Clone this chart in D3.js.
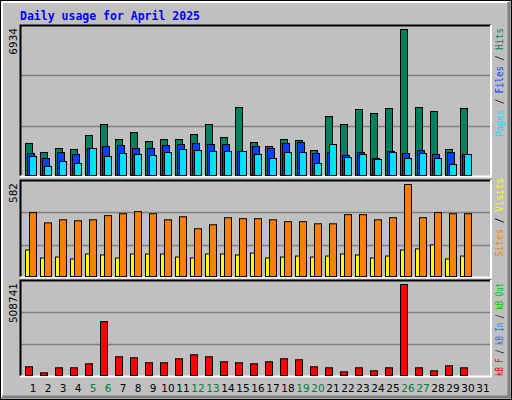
<!DOCTYPE html><html><head><meta charset="utf-8">
<script src="https://cdn.jsdelivr.net/npm/d3@7/dist/d3.min.js"></script>
<style>body{margin:0;background:#fff}</style></head><body><svg id="c" width="512" height="400"></svg>
<script>
const days = d3.range(1,32);
const weekend = [5,6,12,13,19,20,26,27];
const hits  = [1557,1132,1321,1274,1934,2453,1745,2075,1651,1745,1745,1981,2453,1840,3255,1604,1415,1745,1698,1226,2830,2453,3160,2972,3208,6934,3255,3066,1274,3208];
const files = [1085,849,1132,1038,1321,1415,1462,1321,1321,1462,1509,1557,1509,1509,1179,1415,1321,1557,1604,1085,1132,991,1132,849,1179,1085,1226,1038,1132,1038];
const pages = [943,472,708,613,1321,943,1085,1038,991,1132,1274,1226,1179,1179,1179,1038,849,1132,1132,613,1509,896,1038,802,1132,849,1085,849,566,1038];
const sites = [406,342,361,355,361,387,399,412,399,361,380,305,330,374,368,368,361,349,349,336,336,393,393,361,374,582,374,406,399,399];
const visits= [172,122,128,116,147,141,122,147,147,147,128,122,147,147,141,153,122,128,134,128,134,147,141,122,134,172,179,204,116,134];
const kbytes= [53650,20350,48100,48100,70300,303400,109150,103600,75850,75850,98050,120250,109150,81400,75850,70300,81400,98050,92500,53650,48100,25900,48100,31450,48100,508741,48100,31450,59200,48100];

const svg = d3.select("#c");
const mono = "'DejaVu Sans Mono', monospace";
svg.append("rect").attr("x",0.5).attr("y",0.5).attr("width",511).attr("height",399).attr("fill","#c0c0c0").attr("stroke","#000");
svg.append("path").attr("d","M2,397V2H509").attr("fill","none").attr("stroke","#fff").attr("stroke-width",2);
svg.append("path").attr("d","M509,2V397H2").attr("fill","none").attr("stroke","#808080").attr("stroke-width",3);

svg.append("text").attr("x",20).attr("y",20).attr("font-family",mono).attr("font-weight","bold")
  .attr("font-size","11.5px").attr("fill","#0000ff").text("Daily usage for April 2025");

const x = d3.scaleLinear().domain([1,31]).range([33,483]);
const L=20, R=491;
const panels = [
  {top:25,bot:176,max:6934,ls:137,ll:109,series:[{d:hits,c:"#00805c",o:-8,w:8},{d:files,c:"#0040ff",o:-6,w:8},{d:pages,c:"#00e0ff",o:-4,w:8}],
   legend:[["Pages","#00e0ff"],[" / ","#000"],["Files","#0040ff"],[" / ","#000"],["Hits","#00805c"]]},
  {top:180,bot:277,max:582,ls:257,ll:79,series:[{d:visits,c:"#ffff00",o:-8,w:5},{d:sites,c:"#ff8000",o:-4,w:8}],
   legend:[["Sites","#ff8000"],[" / ","#000"],["Visits","#ffff00"]]},
  {top:280,bot:376,max:508741,ls:376,ll:93,series:[{d:kbytes,c:"#ff0000",o:-8,w:8}],
   legend:[["kB F","#ff0000"],[" / ","#000"],["kB In","#0080ff"],[" / ","#000"],["kB Out","#00c000"]]}
];
panels.forEach((p,i)=>{
  const y = d3.scaleLinear().domain([0,p.max]).range([p.bot, p.top+4]);
  const g = svg.append("g");
  const h = p.bot-p.top;
  [1,2].forEach(k=>g.append("line").attr("x1",L).attr("x2",R)
    .attr("y1",Math.round(p.top+h*k/3)+0.5).attr("y2",Math.round(p.top+h*k/3)+0.5).attr("stroke","#808080").attr("stroke-width",1.5));
  g.append("path").attr("d",`M${L+0.5},${p.bot}V${p.top+0.5}H${R}`).attr("fill","none").attr("stroke","#000").attr("stroke-width",2);
  g.append("path").attr("d",`M${R},${p.top}V${p.bot+0.5}H${L}`).attr("fill","none").attr("stroke","#fff").attr("stroke-width",2);
  p.series.forEach(s=>{
    g.selectAll(null).data(s.d).join("rect")
      .attr("x",(d,j)=>x(j+1)+s.o+0.5).attr("width",s.w-1)
      .attr("y",d=>y(d)+0.5).attr("height",d=>Math.max(0,p.bot-y(d)-1))
      .attr("fill",s.c).attr("stroke","#000").attr("stroke-width",1);
  });
  svg.append("text").attr("transform",`translate(17,${p.top+3}) rotate(-90)`).attr("text-anchor","end")
    .attr("font-family","'DejaVu Sans', sans-serif").attr("font-size","10.5px").attr("fill","#000").text(d3.format("d")(p.max));
  const t = svg.append("text").attr("transform",`translate(503,${p.ls}) rotate(-90)`)
    .attr("font-family",mono).attr("font-size","10px")
    .attr("textLength",p.ll).attr("lengthAdjust","spacingAndGlyphs");
  p.legend.forEach(([s,c])=>t.append("tspan").attr("fill",c).text(s));
});
svg.append("g").selectAll("text").data(days).join("text")
  .attr("x",d=>x(d)).attr("y",392).attr("text-anchor","middle")
  .attr("font-family","'DejaVu Sans', sans-serif").attr("font-size","10.5px")
  .attr("fill",d=>weekend.includes(d)?"#008040":"#000").text(d=>d);
</script></body></html>
